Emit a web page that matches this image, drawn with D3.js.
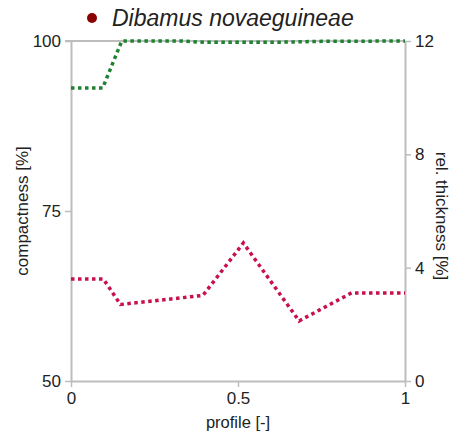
<!DOCTYPE html>
<html>
<head>
<meta charset="utf-8">
<script src="https://cdn.jsdelivr.net/npm/d3@7"></script>
<style>
  body { margin: 0; background: #fff; }
  text { font-family: "Liberation Sans", Arial, sans-serif; fill: #222; }
</style>
</head>
<body>
<svg width="462" height="439"></svg>
<script>
const title = "Dibamus novaeguineae"

// compactness [%] (left axis)
const compProfile = [0, 0.095, 0.152, 0.33, 0.4, 0.6, 0.75, 1]
const compValues = [93.1, 93.1, 100, 100, 99.8, 99.8, 99.95, 100]

// rel. thickness [%] (right axis)
const thickProfile = [0, 0.097, 0.148, 0.395, 0.516, 0.683, 0.84, 1]
const thickValues = [3.6, 3.6, 2.7, 3.02, 4.87, 2.12, 3.11, 3.11]

const xTicks = [0, 0.5, 1]
const leftTicks = [50, 75, 100]
const rightTicks = [0, 4, 8, 12]

const margin = { left: 71, right: 57, top: 41, bottom: 58 }
const width = 462, height = 439
const svg = d3.select("svg")

const x = d3.scaleLinear().domain([0, 1]).range([margin.left, width - margin.right])
const yL = d3.scaleLinear().domain([50, 100]).range([height - margin.bottom, margin.top])
const yR = d3.scaleLinear().domain([0, 12]).range([height - margin.bottom, margin.top])

const axisColor = "#bdbdbd"
const styleAxis = g => {
  g.select(".domain").attr("stroke", axisColor).attr("stroke-width", 2)
  g.selectAll(".tick line").attr("stroke", axisColor).attr("stroke-width", 1.5)
  g.selectAll(".tick text").style("font-size", "17px").attr("fill", "#222")
}

svg.append("g")
  .attr("transform", `translate(0,${height - margin.bottom})`)
  .call(d3.axisBottom(x).tickValues(xTicks).tickFormat(d3.format("")).tickSize(6).tickSizeOuter(0).tickPadding(5))
  .call(styleAxis)

svg.append("g")
  .attr("transform", `translate(${margin.left},0)`)
  .call(d3.axisLeft(yL).tickValues(leftTicks).tickSize(6).tickSizeOuter(0).tickPadding(4))
  .call(styleAxis)

svg.append("g")
  .attr("transform", `translate(${width - margin.right},0)`)
  .call(d3.axisRight(yR).tickValues(rightTicks).tickSize(6).tickSizeOuter(0).tickPadding(4))
  .call(styleAxis)

// top border line
svg.append("line")
  .attr("x1", margin.left - 6).attr("x2", width - margin.right)
  .attr("y1", margin.top).attr("y2", margin.top)
  .attr("stroke", axisColor).attr("stroke-width", 2)

// axis titles
svg.append("text")
  .attr("x", x(0.5)).attr("y", 428)
  .attr("text-anchor", "middle")
  .style("font-size", "16.5px")
  .text("profile [-]")

svg.append("text")
  .attr("transform", `translate(28,${(margin.top + height - margin.bottom) / 2}) rotate(-90)`)
  .attr("text-anchor", "middle")
  .style("font-size", "17px")
  .text("compactness [%]")

svg.append("text")
  .attr("transform", `translate(436,${(margin.top + height - margin.bottom) / 2 + 5}) rotate(90)`)
  .attr("text-anchor", "middle")
  .style("font-size", "17px")
  .text("rel. thickness [%]")

// lines
const compLine = d3.line().x((d, i) => x(compProfile[i])).y(d => yL(d))
const thickLine = d3.line().x((d, i) => x(thickProfile[i])).y(d => yR(d))

svg.append("path")
  .datum(compValues)
  .attr("d", compLine)
  .attr("fill", "none")
  .attr("stroke", "#1e8232")
  .attr("stroke-width", 3.5)
  .attr("stroke-dasharray", "3.5,3.5")

svg.append("path")
  .datum(thickValues)
  .attr("d", thickLine)
  .attr("fill", "none")
  .attr("stroke", "#c8104a")
  .attr("stroke-width", 3.5)
  .attr("stroke-dasharray", "3.5,3.5")

// title legend
svg.append("circle")
  .attr("cx", 92).attr("cy", 18).attr("r", 5)
  .attr("fill", "#8b0000")

svg.append("text")
  .attr("x", 112).attr("y", 26)
  .style("font-size", "23px")
  .style("font-style", "italic")
  .text(title)
</script>
</body>
</html>
